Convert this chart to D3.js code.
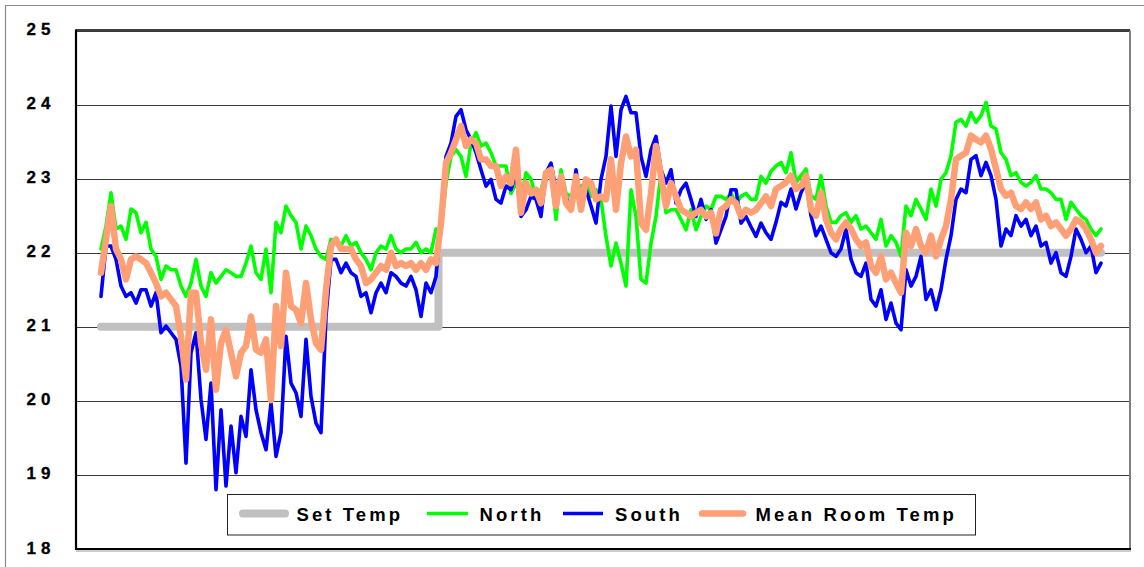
<!DOCTYPE html>
<html>
<head>
<meta charset="utf-8">
<script src="https://cdn.jsdelivr.net/npm/d3@7"></script>
<style>
  html, body { margin: 0; padding: 0; background: #fff; }
  svg { display: block; }
  text { font-family: Arial, "Liberation Sans", sans-serif; font-weight: bold; fill: #000; }
</style>
</head>
<body>
<svg id="chart" width="1144" height="567"></svg>
<script>
// Room temperature readings (°C), one reading per sample step
const yTicks = [18, 19, 20, 21, 22, 23, 24, 25];

// Set-point changes: [sample index, set temperature]
const setTemp = [[0, 21], [67.5, 22], [200, 22]];

const north = [
  22.05, 22.36, 22.81, 22.32, 22.36, 22.18, 22.59, 22.54, 22.27, 22.41,
  22.05, 21.95, 21.64, 21.82, 21.77, 21.77, 21.55, 21.41, 21.59, 21.91,
  21.55, 21.41, 21.73, 21.59, 21.68, 21.77, 21.73, 21.68, 21.68, 21.86,
  22.09, 21.73, 21.64, 22.05, 21.46, 22.41, 22.27, 22.63, 22.50, 22.41,
  22.05, 22.36, 22.23, 22.05, 21.95, 21.91, 22.18, 22.14, 22.09, 22.23,
  22.09, 22.14, 22.00, 21.91, 21.77, 22.00, 22.09, 22.05, 22.23, 22.05,
  22.00, 22.05, 22.05, 22.14, 22.00, 22.05, 22.00, 22.32, 22.30, 22.94,
  23.30, 23.39, 23.30, 23.03, 23.48, 23.62, 23.44, 23.48, 23.35, 23.17,
  23.17, 23.17, 22.80, 22.94, 22.72, 23.08, 22.99, 22.76, 22.85, 23.08,
  23.08, 22.45, 23.12, 22.80, 22.76, 22.85, 22.90, 22.94, 22.76, 22.85,
  22.72, 22.22, 21.82, 22.13, 21.86, 21.55, 22.85, 22.49, 21.64, 21.59,
  22.13, 22.49, 23.08, 22.54, 22.58, 22.58, 22.45, 22.31, 22.58, 22.31,
  22.49, 22.63, 22.58, 22.76, 22.76, 22.72, 22.80, 22.67, 22.76, 22.80,
  22.72, 22.72, 23.03, 22.94, 23.10, 23.17, 23.22, 23.08, 23.35, 22.95,
  23.04, 23.13, 22.77, 22.72, 23.04, 22.63, 22.41, 22.41, 22.50, 22.54,
  22.41, 22.50, 22.32, 22.36, 22.27, 22.18, 22.45, 22.09, 22.23, 22.14,
  21.95, 22.63, 22.50, 22.72, 22.59, 22.45, 22.86, 22.63, 22.99, 23.08,
  23.31, 23.76, 23.80, 23.71, 23.89, 23.76, 23.85, 24.03, 23.71, 23.67,
  23.35, 23.26, 23.04, 23.08, 22.95, 22.90, 22.95, 23.04, 22.86, 22.86,
  22.81, 22.72, 22.72, 22.45, 22.68, 22.59, 22.50, 22.45, 22.32, 22.23,
  22.32
];

const south = [
  21.41, 22.09, 22.09, 21.91, 21.55, 21.41, 21.46, 21.32, 21.50, 21.50,
  21.28, 21.46, 20.92, 21.01, 20.92, 20.83, 20.47, 19.16, 20.65, 20.92,
  20.02, 19.48, 20.24, 18.80, 19.88, 18.85, 19.66, 19.03, 19.79, 19.52,
  20.42, 19.88, 19.57, 19.34, 19.97, 19.25, 19.57, 20.87, 20.24, 20.11,
  19.79, 20.83, 20.06, 19.70, 19.57, 21.14, 21.91, 21.91, 21.73, 21.86,
  21.73, 21.68, 21.41, 21.46, 21.19, 21.46, 21.59, 21.46, 21.73, 21.68,
  21.59, 21.55, 21.68, 21.50, 21.14, 21.59, 21.46, 21.68, 22.40, 23.30,
  23.48, 23.84, 23.93, 23.66, 23.53, 23.35, 23.12, 22.90, 22.99, 22.72,
  22.67, 22.90, 22.85, 23.08, 22.49, 22.58, 22.76, 22.72, 22.49, 23.08,
  23.21, 22.85, 22.94, 22.76, 22.58, 23.12, 22.67, 22.85, 22.63, 22.40,
  22.99, 23.30, 23.98, 23.30, 23.93, 24.11, 23.89, 23.89, 23.30, 23.03,
  23.39, 23.57, 23.12, 22.94, 23.12, 22.67, 22.85, 22.94, 22.72, 22.49,
  22.72, 22.45, 22.58, 22.13, 22.31, 22.49, 22.85, 22.85, 22.40, 22.49,
  22.35, 22.22, 22.40, 22.27, 22.18, 22.41, 22.68, 22.63, 22.86, 22.59,
  22.81, 22.95, 22.50, 22.23, 22.36, 22.18, 22.00, 21.95, 22.05, 22.32,
  21.91, 21.73, 21.68, 21.86, 21.37, 21.28, 21.50, 21.10, 21.32, 21.05,
  20.96, 21.77, 21.55, 21.68, 21.95, 21.37, 21.50, 21.23, 21.50, 21.91,
  22.23, 22.72, 22.86, 22.81, 23.26, 23.31, 23.04, 23.22, 23.04, 22.72,
  22.09, 22.32, 22.23, 22.50, 22.36, 22.45, 22.23, 22.36, 22.09, 22.14,
  21.86, 22.00, 21.73, 21.68, 21.95, 22.32, 22.18, 22.00, 22.09, 21.73,
  21.86
];

const meanRoom = [
  21.73, 22.18, 22.63, 22.05, 21.91, 21.64, 21.91, 21.95, 21.91, 21.86,
  21.73, 21.59, 21.41, 21.46, 21.37, 21.28, 20.87, 20.29, 21.46, 21.46,
  20.78, 20.42, 21.10, 20.15, 20.78, 20.96, 20.65, 20.33, 20.65, 20.74,
  21.14, 20.69, 20.65, 20.83, 20.01, 21.28, 20.74, 21.73, 21.28, 21.23,
  21.05, 21.59, 21.10, 20.78, 20.69, 21.50, 22.09, 22.18, 22.05, 22.05,
  22.05, 21.91, 21.82, 21.59, 21.64, 21.73, 21.82, 21.77, 22.00, 21.82,
  21.86, 21.82, 21.86, 21.77, 21.86, 21.77, 21.91, 21.86, 22.40, 23.21,
  23.35, 23.53, 23.71, 23.44, 23.53, 23.48, 23.26, 23.26, 23.17, 23.17,
  22.90, 23.03, 22.94, 23.39, 22.54, 22.94, 22.80, 22.85, 22.67, 23.08,
  23.12, 22.63, 23.03, 22.67, 22.58, 23.03, 22.58, 22.99, 22.94, 22.72,
  22.76, 22.72, 23.26, 22.58, 23.21, 23.57, 23.30, 23.39, 22.40, 22.31,
  22.80, 23.44, 23.03, 22.63, 22.94, 22.76, 22.58, 22.54, 22.49, 22.54,
  22.58, 22.49, 22.54, 22.26, 22.58, 22.63, 22.72, 22.67, 22.49, 22.58,
  22.54, 22.58, 22.67, 22.76, 22.63, 22.86, 22.90, 22.95, 23.04, 22.86,
  22.90, 23.04, 22.59, 22.50, 22.81, 22.45, 22.27, 22.18, 22.32, 22.41,
  22.32, 22.18, 22.09, 22.14, 21.82, 21.73, 21.95, 21.64, 21.73, 21.59,
  21.46, 22.27, 22.09, 22.32, 22.09, 22.00, 22.23, 21.95, 22.18, 22.36,
  22.72, 23.26, 23.31, 23.35, 23.58, 23.53, 23.49, 23.58, 23.40, 23.13,
  22.86, 22.77, 22.81, 22.63, 22.59, 22.68, 22.59, 22.68, 22.45, 22.50,
  22.36, 22.41, 22.32, 22.23, 22.32, 22.45, 22.41, 22.32, 22.18, 22.00,
  22.09
];

const legendItems = [
  { label: "Set Temp", color: "#c0c0c0", width: 8, cap: "round" },
  { label: "North", color: "#00ff00", width: 3.6, cap: "butt" },
  { label: "South", color: "#0000ff", width: 3.6, cap: "butt" },
  { label: "Mean Room Temp", color: "#ff9f75", width: 6.5, cap: "round" }
];

const svg = d3.select("#chart");

// Plot area
const plot = { left: 76, right: 1130, top: 30.5, bottom: 549 };

const x = d3.scaleLinear().domain([0, north.length - 1]).range([101, 1101]);
const y = d3.scaleLinear().domain([18, 25]).range([plot.bottom, plot.top]);

// Outer frame (top and left edges)
svg.append("path")
  .attr("d", "M5.5,567 V5.5 H1144")
  .attr("fill", "none")
  .attr("stroke", "#8a8a8a")
  .attr("stroke-width", 1.2);

// Horizontal gridlines
const yAxis = d3.axisLeft(y)
  .tickValues(yTicks)
  .tickSize(-(plot.right - plot.left))
  .tickFormat("");
const gAxis = svg.append("g")
  .attr("transform", `translate(${plot.left},0)`)
  .call(yAxis);
gAxis.select(".domain").remove();
gAxis.selectAll(".tick line")
  .attr("stroke", "#3a3a3a")
  .attr("stroke-width", 1)
  .attr("shape-rendering", "crispEdges");

// Tick labels
svg.append("g").selectAll("text")
  .data(yTicks)
  .join("text")
  .attr("x", 26.5)
  .attr("y", d => y(d) + 4.5)
  .attr("font-size", 17)
  .attr("letter-spacing", 5)
  .attr("stroke", "#000")
  .attr("stroke-width", 0.3)
  .text(d => d);

// Plot frame
svg.append("line") // right
  .attr("x1", plot.right).attr("x2", plot.right)
  .attr("y1", plot.top).attr("y2", plot.bottom + 1)
  .attr("stroke", "#808080").attr("stroke-width", 2);
svg.append("line") // top
  .attr("x1", plot.left).attr("x2", plot.right)
  .attr("y1", plot.top - 0.5).attr("y2", plot.top - 0.5)
  .attr("stroke", "#000").attr("stroke-width", 1.5);
svg.append("line") // bottom shadow
  .attr("x1", plot.left).attr("x2", plot.right + 1)
  .attr("y1", plot.bottom + 2).attr("y2", plot.bottom + 2)
  .attr("stroke", "#9a9a9a").attr("stroke-width", 1);
svg.append("line") // bottom
  .attr("x1", plot.left - 1).attr("x2", plot.right + 1)
  .attr("y1", plot.bottom).attr("y2", plot.bottom)
  .attr("stroke", "#000").attr("stroke-width", 2.2);
svg.append("line") // left
  .attr("x1", plot.left).attr("x2", plot.left)
  .attr("y1", plot.top - 1).attr("y2", plot.bottom + 1)
  .attr("stroke", "#000").attr("stroke-width", 2.2);

// Series lines
const line = d3.line()
  .x((d, i) => x(i))
  .y(d => y(d))
  .curve(d3.curveLinear);

const stepLine = d3.line()
  .x(d => x(d[0]))
  .y(d => y(d[1]))
  .curve(d3.curveStepAfter);

const gLines = svg.append("g");

gLines.append("path")
  .datum(setTemp)
  .attr("d", stepLine)
  .attr("fill", "none")
  .attr("stroke", legendItems[0].color)
  .attr("stroke-width", legendItems[0].width)
  .attr("stroke-linecap", "round")
  .attr("stroke-linejoin", "round");

[[north, legendItems[1]], [south, legendItems[2]], [meanRoom, legendItems[3]]].forEach(([data, item]) => {
  gLines.append("path")
    .datum(data)
    .attr("d", line)
    .attr("fill", "none")
    .attr("stroke", item.color)
    .attr("stroke-width", item.width)
    .attr("stroke-linejoin", "round")
    .attr("stroke-linecap", "round");
});

// Legend
const legend = svg.append("g");
legend.append("rect")
  .attr("x", 227.5).attr("y", 494.5)
  .attr("width", 748).attr("height", 40.5)
  .attr("fill", "#fff")
  .attr("stroke", "#222")
  .attr("stroke-width", 1);

const legendPos = [
  { x1: 243, x2: 285, tx: 296.5 },
  { x1: 427, x2: 468, tx: 479.5 },
  { x1: 563, x2: 603, tx: 615 },
  { x1: 702, x2: 743, tx: 755.5 }
];

legendItems.forEach((item, k) => {
  const p = legendPos[k];
  legend.append("line")
    .attr("x1", p.x1).attr("x2", p.x2)
    .attr("y1", 513.5).attr("y2", 513.5)
    .attr("stroke", item.color)
    .attr("stroke-width", item.width)
    .attr("stroke-linecap", item.cap);
  legend.append("text")
    .attr("x", p.tx)
    .attr("y", 521)
    .attr("font-size", 18.5)
    .attr("letter-spacing", 3.1)
    .text(item.label);
});
</script>
</body>
</html>
